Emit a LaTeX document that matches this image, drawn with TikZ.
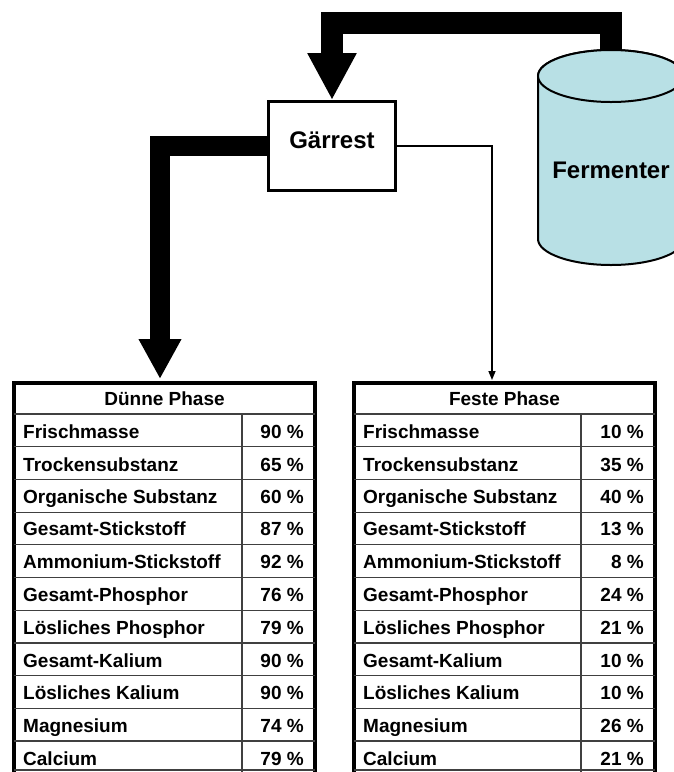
\documentclass[tikz,border=0pt]{standalone}
\usepackage{fontspec}
\setmainfont{Liberation Sans}
\usetikzlibrary{arrows.meta, backgrounds}
\definecolor{fermblue}{RGB}{184,224,229}

\begin{document}
\begin{tikzpicture}[x=1pt, y=-1pt, line join=miter,
                        every node/.style={font=\fontsize{19}{22}\selectfont\bfseries, inner sep=0pt},
                        gaerbox/.style={draw, line width=3pt, fill=white, minimum width=127pt, minimum height=89pt,
                                        font=\fontsize{24}{28}\selectfont\bfseries, text depth=12pt},
                        tablebox/.style={draw, line width=4pt, minimum width=301pt, minimum height=397pt},
                        rowlabel/.style={anchor=base west},
                        rowvalue/.style={anchor=base east},
                        gridline/.style={line width=1.2pt, black!75},
                        fatarrow/.style={line width=22pt, -{Triangle[length=47pt, width=46pt]}},
                        midarrow/.style={line width=20pt, -{Triangle[length=40pt, width=40pt]}},
                        thinarrow/.style={line width=1.5pt, -{Triangle[length=9pt, width=7pt]}}]

                        \useasboundingbox (0,0) rectangle (674,772);
                        \clip (0,0) rectangle (674,772);

                        % Nodes
                        \node[gaerbox] (gaer) at (332,146) {Gärrest}; % Gaerrest box
                        \coordinate (fermtop) at (611,60); % top of the fermenter
                        \coordinate (duennin) at (160,379); % entry of thin phase table
                        \coordinate (festin) at (492,380); % entry of solid phase table

                        % Fermenter cylinder
                        \path[draw, line width=2pt, fill=fermblue] (538,76) -- (538,239) arc (180:0:73 and 26)
                            -- (684,76) arc (0:-180:73 and 26) -- cycle;
                        \draw[line width=2pt, fill=fermblue] (611,76) ellipse (73 and 26);
                        \node[font=\fontsize{24}{28}\selectfont\bfseries] (ferm) at (611,170) {Fermenter};

                        % Arrows (behind box and cylinder)
                        \begin{scope}[on background layer]
                        \draw[fatarrow] (fermtop) -- ++(0,-37) -| (gaer.north);
                        \draw[midarrow] (gaer.west) -| (duennin);
                        \draw[thinarrow] (gaer.east) -| (festin);
                        \end{scope}

                        % Tables
                        \node[tablebox] (duenn) at (164.5,581.5) {}; % thin phase
                        \node[tablebox] (fest) at (504.5,581.5) {}; % solid phase

                        \draw[gridline] (14,414) -- (315,414) (14,446.7) -- (315,446.7) (14,479.4) -- (315,479.4)
                            (14,512.1) -- (315,512.1) (14,544.8) -- (315,544.8) (14,577.5) -- (315,577.5)
                            (14,610.2) -- (315,610.2) (14,642.9) -- (315,642.9) (14,675.6) -- (315,675.6)
                            (14,708.3) -- (315,708.3) (14,741) -- (315,741) (14,770) -- (315,770)
                            (242,414) -- (242,780);
                        \draw[gridline] (354,414) -- (655,414) (354,446.7) -- (655,446.7) (354,479.4) -- (655,479.4)
                            (354,512.1) -- (655,512.1) (354,544.8) -- (655,544.8) (354,577.5) -- (655,577.5)
                            (354,610.2) -- (655,610.2) (354,642.9) -- (655,642.9) (354,675.6) -- (655,675.6)
                            (354,708.3) -- (655,708.3) (354,741) -- (655,741) (354,770) -- (655,770)
                            (581,414) -- (581,780);

                        % Thin phase entries
                        \node[anchor=base] (duennhead) at (164.5,405) {Dünne Phase};
                        \node[rowlabel] (d1) at (23,438) {Frischmasse};
                        \node[rowlabel] (d2) at (23,471) {Trockensubstanz};
                        \node[rowlabel] (d3) at (23,503) {Organische Substanz};
                        \node[rowlabel] (d4) at (23,535) {Gesamt-Stickstoff};
                        \node[rowlabel] (d5) at (23,568) {Ammonium-Stickstoff};
                        \node[rowlabel] (d6) at (23,601) {Gesamt-Phosphor};
                        \node[rowlabel] (d7) at (23,634) {Lösliches Phosphor};
                        \node[rowlabel] (d8) at (23,667) {Gesamt-Kalium};
                        \node[rowlabel] (d9) at (23,699) {Lösliches Kalium};
                        \node[rowlabel] (d10) at (23,732) {Magnesium};
                        \node[rowlabel] (d11) at (23,765) {Calcium};
                        \node[rowvalue] (dv1) at (304,438) {90 \%};
                        \node[rowvalue] (dv2) at (304,471) {65 \%};
                        \node[rowvalue] (dv3) at (304,503) {60 \%};
                        \node[rowvalue] (dv4) at (304,535) {87 \%};
                        \node[rowvalue] (dv5) at (304,568) {92 \%};
                        \node[rowvalue] (dv6) at (304,601) {76 \%};
                        \node[rowvalue] (dv7) at (304,634) {79 \%};
                        \node[rowvalue] (dv8) at (304,667) {90 \%};
                        \node[rowvalue] (dv9) at (304,699) {90 \%};
                        \node[rowvalue] (dv10) at (304,732) {74 \%};
                        \node[rowvalue] (dv11) at (304,765) {79 \%};

                        % Solid phase entries
                        \node[anchor=base] (festhead) at (504.5,405) {Feste Phase};
                        \node[rowlabel] (f1) at (363,438) {Frischmasse};
                        \node[rowlabel] (f2) at (363,471) {Trockensubstanz};
                        \node[rowlabel] (f3) at (363,503) {Organische Substanz};
                        \node[rowlabel] (f4) at (363,535) {Gesamt-Stickstoff};
                        \node[rowlabel] (f5) at (363,568) {Ammonium-Stickstoff};
                        \node[rowlabel] (f6) at (363,601) {Gesamt-Phosphor};
                        \node[rowlabel] (f7) at (363,634) {Lösliches Phosphor};
                        \node[rowlabel] (f8) at (363,667) {Gesamt-Kalium};
                        \node[rowlabel] (f9) at (363,699) {Lösliches Kalium};
                        \node[rowlabel] (f10) at (363,732) {Magnesium};
                        \node[rowlabel] (f11) at (363,765) {Calcium};
                        \node[rowvalue] (fv1) at (644,438) {10 \%};
                        \node[rowvalue] (fv2) at (644,471) {35 \%};
                        \node[rowvalue] (fv3) at (644,503) {40 \%};
                        \node[rowvalue] (fv4) at (644,535) {13 \%};
                        \node[rowvalue] (fv5) at (644,568) {8 \%};
                        \node[rowvalue] (fv6) at (644,601) {24 \%};
                        \node[rowvalue] (fv7) at (644,634) {21 \%};
                        \node[rowvalue] (fv8) at (644,667) {10 \%};
                        \node[rowvalue] (fv9) at (644,699) {10 \%};
                        \node[rowvalue] (fv10) at (644,732) {26 \%};
                        \node[rowvalue] (fv11) at (644,765) {21 \%};
                    \end{tikzpicture}
\end{document}
